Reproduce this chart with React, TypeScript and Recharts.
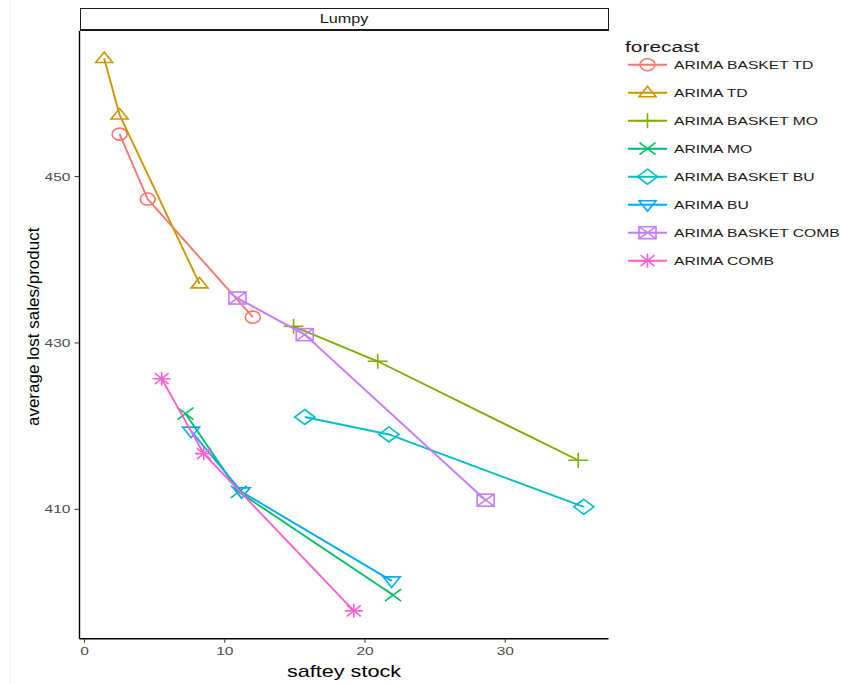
import { ScatterChart, Scatter, XAxis, YAxis } from "recharts";

// facet: Lumpy
const seriesNames = [
  "ARIMA BASKET TD",
  "ARIMA TD",
  "ARIMA BASKET MO",
  "ARIMA MO",
  "ARIMA BASKET BU",
  "ARIMA BU",
  "ARIMA BASKET COMB",
  "ARIMA COMB",
];
const colors = ["#F8766D", "#CD9600", "#7CAE00", "#00BE67", "#00BFC4", "#00A9FF", "#C77CFF", "#FF61CC"];
const shapes = ["circle", "triangle", "plus", "cross", "diamond", "triangleDown", "squareCross", "asterisk"];

const basketTdStock = [2.5, 4.5, 12.0];
const basketTdLost = [455.1, 447.3, 433.1];
const tdStock = [1.4, 2.5, 8.2];
const tdLost = [464.2, 457.4, 437.1];
const basketMoStock = [14.9, 20.9, 35.2];
const basketMoLost = [432.0, 427.8, 415.9];
const moStock = [7.2, 11.0, 22.0];
const moLost = [421.5, 412.1, 399.7];
const basketBuStock = [15.7, 21.7, 35.6];
const basketBuLost = [421.1, 419.0, 410.3];
const buStock = [7.6, 11.2, 21.9];
const buLost = [419.4, 412.1, 401.4];
const basketCombStock = [10.9, 15.7, 28.6];
const basketCombLost = [435.4, 431.0, 411.1];
const combStock = [5.5, 8.5, 19.2];
const combLost = [425.7, 416.7, 397.8];

const xTicks = [0, 10, 20, 30];
const yTicks = [410, 430, 450];

const stocks = [basketTdStock, tdStock, basketMoStock, moStock, basketBuStock, buStock, basketCombStock, combStock];
const losts = [basketTdLost, tdLost, basketMoLost, moLost, basketBuLost, buLost, basketCombLost, combLost];

const SX = 1.35; // horizontal text is stretched in the source
const FONT = "'Liberation Sans', Arial, sans-serif";

function Marker({ cx, cy, kind, color }: any) {
  const p = { fill: "none", stroke: color, strokeWidth: 1.6 };
  switch (kind) {
    case "circle":
      return <ellipse cx={cx} cy={cy} rx={7.5} ry={6} {...p} />;
    case "triangle":
      return <polygon points={`${cx},${cy - 6.5} ${cx + 8.5},${cy + 4} ${cx - 8.5},${cy + 4}`} {...p} />;
    case "triangleDown":
      return <polygon points={`${cx},${cy + 6.5} ${cx + 8.5},${cy - 4} ${cx - 8.5},${cy - 4}`} {...p} />;
    case "plus":
      return (
        <g {...p}>
          <line x1={cx - 10} y1={cy} x2={cx + 10} y2={cy} />
          <line x1={cx} y1={cy - 7.5} x2={cx} y2={cy + 7.5} />
        </g>
      );
    case "cross":
      return (
        <g {...p}>
          <line x1={cx - 8} y1={cy - 6} x2={cx + 8} y2={cy + 6} />
          <line x1={cx - 8} y1={cy + 6} x2={cx + 8} y2={cy - 6} />
        </g>
      );
    case "diamond":
      return <polygon points={`${cx},${cy - 7.5} ${cx + 10},${cy} ${cx},${cy + 7.5} ${cx - 10},${cy}`} {...p} />;
    case "squareCross":
      return (
        <g {...p}>
          <rect x={cx - 8.5} y={cy - 6} width={17} height={12} />
          <line x1={cx - 8.5} y1={cy - 6} x2={cx + 8.5} y2={cy + 6} />
          <line x1={cx - 8.5} y1={cy + 6} x2={cx + 8.5} y2={cy - 6} />
        </g>
      );
    default:
      return (
        <g {...p}>
          <line x1={cx - 9} y1={cy} x2={cx + 9} y2={cy} />
          <line x1={cx} y1={cy - 7} x2={cx} y2={cy + 7} />
          <line x1={cx - 7} y1={cy - 5.5} x2={cx + 7} y2={cy + 5.5} />
          <line x1={cx - 7} y1={cy + 5.5} x2={cx + 7} y2={cy - 5.5} />
        </g>
      );
  }
}

const Tick = ({ x, y, payload, textAnchor, vertical }: any) => (
  <text
    transform={`translate(${x},${y}) scale(${SX},1)`}
    textAnchor={textAnchor}
    dy={vertical ? "0.35em" : "0.75em"}
    fill="#4d4d4d"
    fontSize={11.5}
    fontFamily={FONT}
  >
    {payload.value}
  </text>
);

function Legend() {
  return (
    <svg width={241} height={250} style={{ position: "absolute", left: 600, top: 30 }}>
      <text transform={`translate(25,22) scale(${SX},1)`} fontSize={15.5} fontFamily={FONT} fill="#1a1a1a">
        forecast
      </text>
      {seriesNames.map((name, i) => {
        const cy = 34.7 + i * 28;
        return (
          <g key={name}>
            <line x1={28} y1={cy} x2={67} y2={cy} stroke={colors[i]} strokeWidth={1.9} />
            <Marker cx={47.5} cy={cy} kind={shapes[i]} color={colors[i]} />
            <text
              transform={`translate(74,${cy}) scale(${SX},1)`}
              dy="0.36em"
              fontSize={11.6}
              fontFamily={FONT}
              fill="#1a1a1a"
            >
              {name}
            </text>
          </g>
        );
      })}
    </svg>
  );
}

export default function App() {
  return (
    <div style={{ position: "absolute", left: 0, top: 0, width: 841, height: 684, background: "#fff" }}>
      <div style={{ position: "absolute", left: 10, top: 0, width: 1, height: 684, background: "#f3f3f3" }} />
      <div
        style={{
          position: "absolute",
          left: 79.5,
          top: 8,
          width: 529,
          height: 23,
          boxSizing: "border-box",
          border: "1.5px solid #1a1a1a",
          borderBottomWidth: 2,
          display: "flex",
          alignItems: "center",
          justifyContent: "center",
        }}
      >
        <span style={{ fontFamily: FONT, fontSize: 12, color: "#1a1a1a", transform: `scaleX(${SX})`, display: "inline-block" }}>
          Lumpy
        </span>
      </div>
      <ScatterChart width={841} height={684} margin={{ top: 31, right: 232.5, bottom: 0, left: 0 }}>
        <XAxis
          type="number"
          dataKey="x"
          domain={[-0.36, 37.36]}
          allowDataOverflow
          ticks={xTicks}
          height={45.3}
          tickSize={4}
          tickMargin={4}
          axisLine={{ stroke: "#000", strokeWidth: 1.4 }}
          tickLine={{ stroke: "#333" }}
          tick={<Tick />}
          label={{
            content: ({ viewBox }: any) => (
              <text
                transform={`translate(${viewBox.x + viewBox.width / 2},${viewBox.y + 38}) scale(${SX},1)`}
                textAnchor="middle"
                fontSize={16}
                fontFamily={FONT}
                fill="#000"
              >
                saftey stock
              </text>
            ),
          }}
        />
        <YAxis
          type="number"
          dataKey="y"
          domain={[394.45, 467.5]}
          allowDataOverflow
          ticks={yTicks}
          width={79.5}
          tickSize={5}
          tickMargin={4}
          axisLine={{ stroke: "#000", strokeWidth: 1.4 }}
          tickLine={{ stroke: "#333" }}
          tick={<Tick vertical />}
          label={{
            content: ({ viewBox }: any) => (
              <text
                transform={`translate(39,${viewBox.y + viewBox.height / 2 - 8}) rotate(-90)`}
                textAnchor="middle"
                fontSize={17}
                fontFamily={FONT}
                fill="#000"
              >
                average lost sales/product
              </text>
            ),
          }}
        />
        {seriesNames.map((name, i) => (
          <Scatter
            key={name}
            name={name}
            data={stocks[i].map((s, j) => ({ x: s, y: losts[i][j] }))}
            fill={colors[i]}
            line={{ stroke: colors[i], strokeWidth: 1.9 }}
            shape={(p: any) => <Marker cx={p.cx} cy={p.cy} kind={shapes[i]} color={colors[i]} />}
            isAnimationActive={false}
          />
        ))}
      </ScatterChart>
      <Legend />
    </div>
  );
}
